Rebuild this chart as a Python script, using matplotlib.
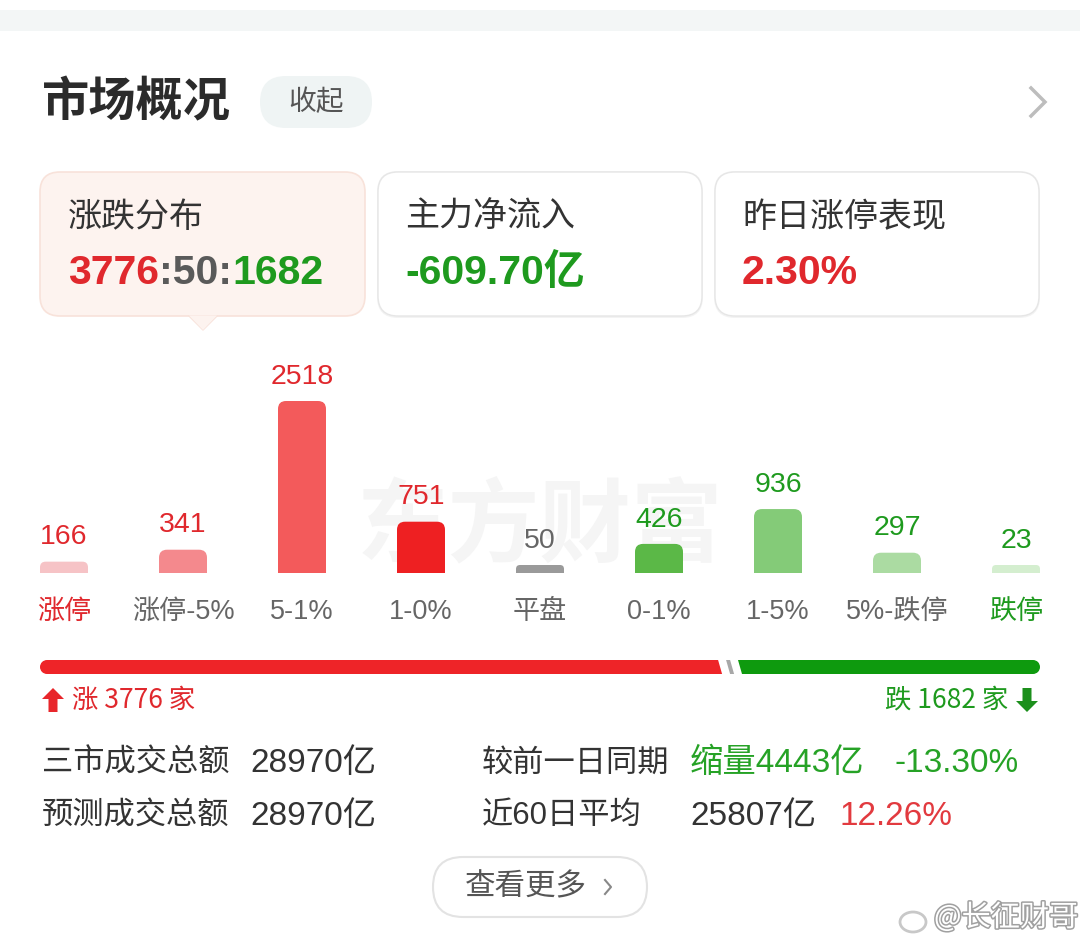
import matplotlib
matplotlib.use('Agg')
import matplotlib.pyplot as plt
from matplotlib.patches import FancyBboxPatch, Polygon, Ellipse
import matplotlib.patheffects as pe

# ---------------- data ----------------
categories = ['涨停', '涨停-5%', '5-1%', '1-0%', '平盘', '0-1%', '1-5%', '5%-跌停', '跌停']
counts = [166, 341, 2518, 751, 50, 426, 936, 297, 23]
bar_colors = ['#F6C3C6', '#F4898D', '#F35A5B', '#EE2022', '#9A9A9A',
              '#5BB847', '#84CB78', '#ABDBA2', '#D4EECF']
value_colors = ['#E0282D'] * 4 + ['#666666'] + ['#1E9A1E'] * 4
label_colors = ['#E0282D'] + ['#666666'] * 7 + ['#1E9A1E']

up_count, flat_count, down_count = 3776, 50, 1682
card_titles = ['涨跌分布', '主力净流入', '昨日涨停表现']
main_net_inflow = '-609.70亿'
limit_up_perf = '2.30%'
turnover_total = '28970亿'
turnover_forecast = '28970亿'
vs_prev_amount = '缩量4443亿'
vs_prev_pct = '-13.30%'
avg60_amount = '25807亿'
avg60_pct = '12.26%'

RED = '#E0282D'
GREEN = '#1E9A1E'
DARK = '#333333'
GRAY = '#666666'
CJK = ['Noto Sans CJK SC', 'DejaVu Sans']
NUM = ['Liberation Sans', 'Noto Sans CJK SC', 'DejaVu Sans']

W, H = 1080, 946
fig = plt.figure(figsize=(W / 100, H / 100), dpi=100)
fig.patch.set_facecolor('white')
ui = fig.add_axes([0, 0, 1, 1])
ui.set_xlim(0, W)
ui.set_ylim(H, 0)
ui.axis('off')


def rbox(x0, y0, x1, y1, r, fc, ec='none', lw=0, z=1):
    p = FancyBboxPatch((x0, y0), x1 - x0, y1 - y0,
                       boxstyle=f'round,pad=0,rounding_size={r}',
                       fc=fc, ec=ec, lw=lw, zorder=z)
    ui.add_patch(p)
    return p


def txt(x, y, s, size, color, ha='left', weight='normal', family=CJK, z=5, **kw):
    return ui.text(x, y, s, fontsize=size, color=color, ha=ha, va='center',
                   fontweight=weight, family=family, zorder=z, **kw)


# top band
ui.add_patch(plt.Rectangle((0, 10), W, 21, fc='#F3F6F6', ec='none', zorder=0))

# header
txt(42, 102, '市场概况', 34, '#2B2B2B', weight='bold')
rbox(260, 76, 372, 128, 26, '#EFF4F4')
txt(316, 102, '收起', 20, '#555555', ha='center')
ui.plot([1031, 1045, 1031], [88, 102, 116], color='#BDBDBD', lw=2.5,
        solid_joinstyle='miter', zorder=3)

# cards
rbox(40, 172, 365, 316, 20, '#FDF3EF', ec='#F8E2DA', lw=1.2, z=2)
ui.add_patch(Polygon([(189, 315.5), (217, 315.5), (203, 330)], closed=True,
                     fc='#FDF3EF', ec='none', zorder=3))
ui.plot([189, 203, 217], [316, 330, 316], color='#F8E2DA', lw=1.0, zorder=2)
for x0, x1 in [(378, 702), (715, 1039)]:
    rbox(x0 - 1, 171, x1 + 1, 318, 21, '#F3F3F3', z=1)
    rbox(x0, 172, x1, 316, 20, 'white', ec='#E6E6E6', lw=1.0, z=2)

txt(68, 217, card_titles[0], 24.5, DARK)
txt(405, 217, card_titles[1], 24.5, DARK)
txt(742, 217, card_titles[2], 24.5, DARK)

VS = 29.5
t1 = txt(68, 273, f'{up_count}', VS, RED, weight='bold', family=NUM)
t2 = ui.annotate(f':{flat_count}:', xy=(1, 0), xycoords=t1, ha='left', va='bottom',
                 fontsize=VS, color='#5A5A5A', fontweight='bold', family=NUM, zorder=5)
t3 = ui.annotate(f'{down_count}', xy=(1, 0), xycoords=t2, ha='left', va='bottom',
                 fontsize=VS, color=GREEN, fontweight='bold', family=NUM, zorder=5)
txt(405, 273, main_net_inflow, VS, GREEN, weight='bold', family=NUM)
txt(742, 273, limit_up_perf, VS, RED, weight='bold', family=NUM)

# watermark
txt(540, 528, '东方财富', 66, '#F5F5F5', ha='center', weight='bold', z=0.5)

# ---------------- bar chart ----------------
bx = fig.add_axes([4.5 / W, (H - 573) / H, 1071 / W, 200 / H])
bx.patch.set_alpha(0)
bx.axis('off')
n = len(counts)
bx.set_xlim(-0.5, n - 0.5)
ymax = max(counts) * 200 / 172
bx.set_ylim(0, ymax)
px_x = 1071 / n          # pixels per x unit
px_y = 200 / ymax        # pixels per y unit
min_h = 8 / px_y
bw = 48 / px_x
heights = [max(c, min_h) for c in counts]
aspect = (1 / px_y) / (1 / px_x)
for i, (h, col) in enumerate(zip(heights, bar_colors)):
    r_px = min(8, h * px_y / 2)
    bx.bar(i, h - r_px / px_y, width=bw, color=col, zorder=2)
    bx.add_patch(FancyBboxPatch((i - bw / 2, 0), bw, h,
                                boxstyle=f'round,pad=0,rounding_size={r_px / px_x}',
                                mutation_aspect=aspect, fc=col, ec='none', zorder=2))
    bx.annotate(f'{counts[i]}', xy=(i, h), xytext=(0, 17.5), textcoords='offset points',
                ha='center', va='center', fontsize=20.5, color=value_colors[i], family=NUM,
                annotation_clip=False)
    bx.annotate(categories[i], xy=(i, 0), xytext=(0, -28), textcoords='offset points',
                ha='center', va='center', fontsize=19.5, color=label_colors[i], family=NUM,
                annotation_clip=False)

# ---------------- progress bar ----------------
total = up_count + flat_count + down_count
px0, px1, pyt, pyb = 40, 1040, 660, 674
pb = fig.add_axes([px0 / W, (H - pyb) / H, (px1 - px0) / W, (pyb - pyt) / H])
pb.patch.set_alpha(0)
pb.axis('off')
pb.set_xlim(0, total)
pb.set_ylim(0, 1)
k = total / (px1 - px0)          # data units per pixel
cap = 7 * k
slant = 4 * k
gap = 5 * k
stripe_w = max(flat_count, 10 * k)
stripe_c = up_count + flat_count / 2
s_l, s_r = stripe_c - stripe_w / 2, stripe_c + stripe_w / 2
red_end = s_l - gap
green_start = s_r + gap
pb.add_patch(Ellipse((cap, 0.5), 2 * cap, 1, fc='#EE2428', ec='none'))
pb.add_patch(Polygon([(cap, 0), (red_end + slant / 2, 0), (red_end - slant / 2, 1), (cap, 1)],
                     closed=True, fc='#EE2428', ec='none'))
pb.add_patch(Polygon([(s_l + slant / 2 + 3 * k, 0), (s_r + slant / 2 - 3 * k, 0),
                      (s_r - slant / 2 - 3 * k, 1), (s_l - slant / 2 + 3 * k, 1)],
                     closed=True, fc='#A8A8A8', ec='none'))
pb.add_patch(Polygon([(green_start + slant / 2, 0), (total - cap, 0), (total - cap, 1), (green_start - slant / 2, 1)],
                     closed=True, fc='#0E9A0E', ec='none'))
pb.add_patch(Ellipse((total - cap, 0.5), 2 * cap, 1, fc='#0E9A0E', ec='none'))

# up / down summary
ui.add_patch(Polygon([(42, 699), (53, 688), (64, 699), (57.5, 699), (57.5, 712), (48.5, 712), (48.5, 699)],
                     closed=True, fc='#E8262B', ec='none', zorder=4))
txt(72, 700, f'涨 {up_count} 家', 19, RED)
txt(1008, 700, f'跌 {down_count} 家', 19, GREEN, ha='right')
ui.add_patch(Polygon([(1016, 701), (1027, 712), (1038, 701), (1031.5, 701), (1031.5, 688), (1022.5, 688), (1022.5, 701)],
                     closed=True, fc='#1C8F1C', ec='none', zorder=4))

# stats
SZ_C, SZ_N = 22.5, 24
txt(42, 763, '三市成交总额', SZ_C, DARK)
txt(250, 763, turnover_total, SZ_N, DARK, family=NUM)
txt(482, 763, '较前一日同期', SZ_C, DARK)
txt(690, 763, vs_prev_amount, SZ_N, '#26A226', family=NUM)
txt(895, 763, vs_prev_pct, SZ_N, '#26A226', family=NUM)
txt(42, 816, '预测成交总额', SZ_C, DARK)
txt(250, 816, turnover_forecast, SZ_N, DARK, family=NUM)
txt(482, 816, '近60日平均', SZ_C, DARK, family=NUM)
txt(690, 816, avg60_amount, SZ_N, DARK, family=NUM)
txt(840, 816, avg60_pct, SZ_N, '#E23A3F', family=NUM)

# button
rbox(433, 857, 647, 917, 30, 'white', ec='#E3E3E3', lw=1.5, z=2)
txt(465, 887, '查看更多', 22, '#555555')
ui.plot([605, 611, 605], [880, 887, 894], color='#888888', lw=1.5, zorder=4)

# weibo watermark
ui.add_patch(Ellipse((913, 922), 26, 20, fc='none', ec='#C8C8C8', lw=2, zorder=4))
txt(934, 918, '@长征财哥', 21, 'white', z=6,
    path_effects=[pe.withStroke(linewidth=2.2, foreground='#A0A0A0')])

fig.savefig('out.png', dpi=100, facecolor='white')
